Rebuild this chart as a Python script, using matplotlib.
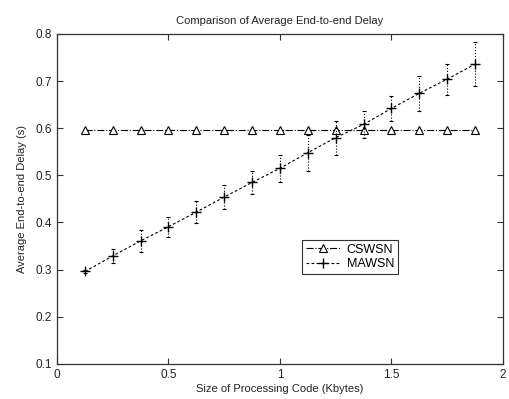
import numpy as np
import matplotlib.pyplot as plt

plt.rcParams['font.family'] = ['Liberation Sans', 'DejaVu Sans']

# size of processing code (Kbytes)
code_size = [0.125, 0.25, 0.375, 0.5, 0.625, 0.75, 0.875, 1.0,
             1.125, 1.25, 1.375, 1.5, 1.625, 1.75, 1.875]

# average end-to-end delay (s)
cswsn_delay = [0.597, 0.597, 0.597, 0.597, 0.597, 0.597, 0.597, 0.597,
               0.597, 0.597, 0.597, 0.597, 0.597, 0.597, 0.597]
mawsn_delay = [0.296, 0.329, 0.361, 0.391, 0.422, 0.454, 0.485, 0.515,
               0.548, 0.580, 0.608, 0.642, 0.674, 0.704, 0.736]
mawsn_err = [0.003, 0.015, 0.024, 0.021, 0.024, 0.025, 0.024, 0.029,
             0.038, 0.036, 0.028, 0.026, 0.037, 0.033, 0.046]

fig = plt.figure(figsize=(5.09, 3.99), dpi=100)
ax = fig.add_axes([0.112, 0.088, 0.876, 0.827])

ax.plot(code_size, cswsn_delay, color='black', linestyle='-.', linewidth=0.8,
        marker='^', markersize=6, markerfacecolor='white',
        markeredgecolor='black', markeredgewidth=0.8, label='CSWSN')

# error bars drawn on their own, dotted, so the legend shows just the line
eb = ax.errorbar(code_size, mawsn_delay, yerr=mawsn_err, fmt='none',
                 ecolor='black', elinewidth=0.8, capsize=1.5, capthick=0.8)
for line in eb[2]:
    line.set_linestyle(':')

ax.plot(code_size, mawsn_delay, color='black', linestyle='--',
        dashes=(2.5, 2), linewidth=0.8, marker='+', markersize=7,
        markeredgewidth=1.0, label='MAWSN')

ax.set_xlim(0, 2)
ax.set_ylim(0.1, 0.8)
ax.set_xticks([0, 0.5, 1, 1.5, 2])
ax.set_xticklabels(['0', '0.5', '1', '1.5', '2'])
ax.set_yticks([0.1, 0.2, 0.3, 0.4, 0.5, 0.6, 0.7, 0.8])
ax.tick_params(direction='in', top=True, right=True, labelsize=8.5,
               length=4, width=0.8, colors='#333333', labelcolor='#222222')
for s in ax.spines.values():
    s.set_linewidth(0.9)
    s.set_color('#333333')

ax.set_title('Comparison of Average End-to-end Delay', fontsize=8, pad=7,
             color='#222222')
ax.set_xlabel('Size of Processing Code (Kbytes)', fontsize=8, labelpad=2,
              color='#222222')
ax.set_ylabel('Average End-to-end Delay (s)', fontsize=8, labelpad=6,
              color='#222222')

leg = ax.legend(loc='lower left', bbox_to_anchor=(0.549, 0.273),
                fontsize=9, frameon=True, fancybox=False,
                borderpad=0.3, labelspacing=0.2, handlelength=2.8,
                handletextpad=0.5, borderaxespad=0)
leg.get_frame().set_edgecolor('black')
leg.get_frame().set_linewidth(0.8)

fig.savefig('out.png', dpi=100)
